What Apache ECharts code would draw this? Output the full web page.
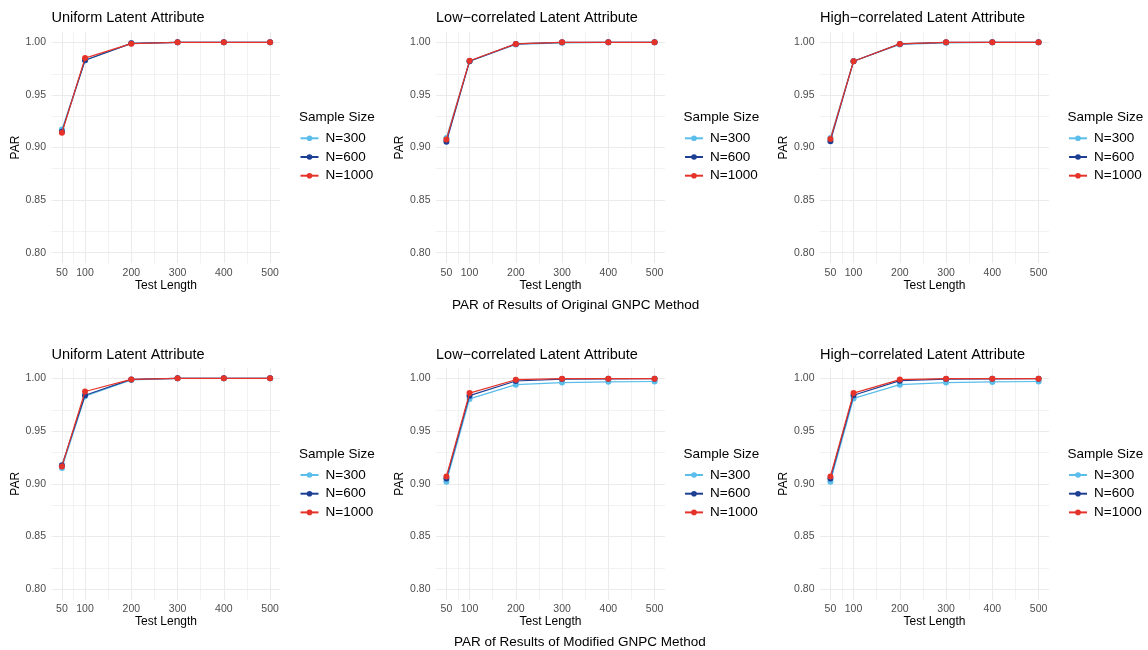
<!DOCTYPE html>
<html>
<head>
<meta charset="utf-8">
<script src="https://cdn.jsdelivr.net/npm/echarts@6/dist/echarts.min.js"></script>
<style>
html,body{margin:0;padding:0;background:#fff;}
#chart{width:1148px;height:650px;}
</style>
</head>
<body>
<div id="chart"></div>
<script>
// ---------- data ----------
const testLength = [50, 100, 200, 300, 400, 500];
const xTicks = [50, 100, 200, 300, 400, 500];
const xMinor = [75, 150, 250, 350, 450];
const yTicks = [0.80, 0.85, 0.90, 0.95, 1.00];
const yMinor = [0.825, 0.875, 0.925, 0.975];
const sampleSizes = ['N=300', 'N=600', 'N=1000'];
const panelTitles = ['Uniform Latent Attribute', 'Low\u2212correlated Latent Attribute', 'High\u2212correlated Latent Attribute'];
const captions = ['PAR of Results of Original GNPC Method', 'PAR of Results of Modified GNPC Method'];

const origUniform300  = [0.917, 0.983, 0.999, 1.000, 1.000, 1.000];
const origUniform600  = [0.915, 0.983, 0.999, 1.000, 1.000, 1.000];
const origUniform1000 = [0.914, 0.985, 0.9987, 1.000, 1.000, 1.000];

const origLow300  = [0.909, 0.982, 0.998, 0.9995, 1.000, 1.000];
const origLow600  = [0.9055, 0.982, 0.9985, 1.000, 1.000, 1.000];
const origLow1000 = [0.9077, 0.9825, 0.9985, 1.000, 1.000, 1.000];

const origHigh300  = [0.909, 0.982, 0.998, 0.9995, 1.000, 1.000];
const origHigh600  = [0.906, 0.982, 0.9985, 1.000, 1.000, 1.000];
const origHigh1000 = [0.908, 0.982, 0.9985, 1.000, 1.000, 1.000];

const modUniform300  = [0.915, 0.983, 0.9985, 1.000, 1.000, 1.000];
const modUniform600  = [0.9175, 0.984, 0.999, 1.000, 1.000, 1.000];
const modUniform1000 = [0.9165, 0.9875, 0.999, 1.000, 1.000, 1.000];

const modLow300  = [0.902, 0.9805, 0.994, 0.996, 0.9967, 0.997];
const modLow600  = [0.905, 0.9836, 0.9975, 0.9993, 0.9995, 0.9996];
const modLow1000 = [0.907, 0.986, 0.9987, 0.9997, 0.9997, 0.9997];

const modHigh300  = [0.902, 0.981, 0.994, 0.996, 0.9966, 0.997];
const modHigh600  = [0.905, 0.984, 0.9978, 0.9993, 0.9995, 0.9996];
const modHigh1000 = [0.907, 0.986, 0.9988, 0.9997, 0.9997, 0.9997];

const panelSeries = [
  [origUniform300, origUniform600, origUniform1000],
  [origLow300, origLow600, origLow1000],
  [origHigh300, origHigh600, origHigh1000],
  [modUniform300, modUniform600, modUniform1000],
  [modLow300, modLow600, modLow1000],
  [modHigh300, modHigh600, modHigh1000]
];

// ---------- style / layout ----------
const colors = ['#5ABDEA', '#1C3E93', '#E5332A'];
const FONT = "'Liberation Sans', Arial, Helvetica, sans-serif";
const colLefts = [51.5, 436, 820];
const rowTops = [31.8, 367.8];
const rowHeights = [231.4, 232];
const panelWidth = 229;
const titleTops = [10.3, 347];
const captionTops = [297, 634.7];
const captionLefts = [452, 454];
const legendTitleTops = [109.5, 446];
const legendTops = [131.3, 468];

const option = {
  animation: false,
  backgroundColor: '#ffffff',
  textStyle: { fontFamily: FONT },
  grid: [], xAxis: [], yAxis: [], series: [], title: [], legend: []
};

const near = (v, arr) => arr.some(t => Math.abs(t - v) < 1e-6);

panelSeries.forEach((sers, i) => {
  const r = Math.floor(i / 3), c = i % 3;
  option.grid.push({ left: colLefts[c], top: rowTops[r], width: panelWidth, height: rowHeights[r] });
  option.xAxis.push({
    gridIndex: i, type: 'value', min: 27.5, max: 522.5, interval: 2.5,
    axisLine: { show: false }, axisTick: { show: false }, splitLine: { show: false },
    axisLabel: { margin: 4, color: '#4D4D4D', fontSize: 10.5, fontFamily: FONT,
      formatter: v => near(v, xTicks) ? String(Math.round(v)) : '' },
    name: 'Test Length', nameLocation: 'middle', nameGap: 16,
    nameTextStyle: { color: '#000', fontSize: 12, fontFamily: FONT }
  });
  option.yAxis.push({
    gridIndex: i, type: 'value', min: 0.79, max: 1.01, interval: 0.01,
    axisLine: { show: false }, axisTick: { show: false }, splitLine: { show: false },
    axisLabel: { margin: 5.5, color: '#4D4D4D', fontSize: 10.5, fontFamily: FONT,
      formatter: v => near(v, yTicks) ? v.toFixed(2) : '' },
    name: 'PAR', nameLocation: 'middle', nameGap: 30,
    nameTextStyle: { color: '#000', fontSize: 12, fontFamily: FONT }
  });
  // gridlines (not data)
  const ml = [];
  xTicks.forEach(v => ml.push({ xAxis: v, lineStyle: { color: '#EBEBEB', width: 1.1, type: 'solid' } }));
  xMinor.forEach(v => ml.push({ xAxis: v, lineStyle: { color: '#EDEDED', width: 0.7, type: 'solid' } }));
  yTicks.forEach(v => ml.push({ yAxis: v, lineStyle: { color: '#EBEBEB', width: 1.1, type: 'solid' } }));
  yMinor.forEach(v => ml.push({ yAxis: v, lineStyle: { color: '#EDEDED', width: 0.7, type: 'solid' } }));
  option.series.push({
    type: 'line', name: 'grid' + i, xAxisIndex: i, yAxisIndex: i, data: [], silent: true, z: 0,
    markLine: { silent: true, z: 0, zlevel: 0, symbol: ['none', 'none'], animation: false, label: { show: false },
      emphasis: { disabled: true }, data: ml }
  });
  sers.forEach((arr, k) => {
    option.series.push({
      type: 'line', name: sampleSizes[k], xAxisIndex: i, yAxisIndex: i,
      data: testLength.map((x, j) => [x, arr[j]]),
      symbol: 'circle', symbolSize: 6, showSymbol: true, clip: false,
      color: colors[k],
      lineStyle: { width: 1.2, color: colors[k] },
      itemStyle: { color: colors[k] },
      emphasis: { disabled: true }, z: 3 + k
    });
  });
  option.title.push({
    text: panelTitles[c], left: colLefts[c], top: titleTops[r], padding: 0,
    textStyle: { fontSize: 14.5, fontWeight: 'normal', color: '#000', fontFamily: FONT, lineHeight: 16 }
  });
  option.title.push({
    text: 'Sample Size', left: colLefts[c] + 247.5, top: legendTitleTops[r], padding: 0,
    textStyle: { fontSize: 13.5, fontWeight: 'normal', color: '#000', fontFamily: FONT, lineHeight: 16 }
  });
  option.legend.push({
    data: sampleSizes, orient: 'vertical', left: colLefts[c] + 248, top: legendTops[r],
    itemWidth: 18, itemHeight: 7, itemGap: 4.7, padding: 0, selectedMode: false,
    textStyle: { fontSize: 13.5, color: '#000', fontFamily: FONT, lineHeight: 14, padding: [0, 0, 0, 2] }
  });
});
captions.forEach((t, r) => {
  option.title.push({
    text: t, left: captionLefts[r], top: captionTops[r], padding: 0,
    textStyle: { fontSize: 13.5, fontWeight: 'normal', color: '#000', fontFamily: FONT, lineHeight: 16 }
  });
});

const chart = echarts.init(document.getElementById('chart'), null, { renderer: 'canvas' });
chart.setOption(option);
</script>
</body>
</html>
